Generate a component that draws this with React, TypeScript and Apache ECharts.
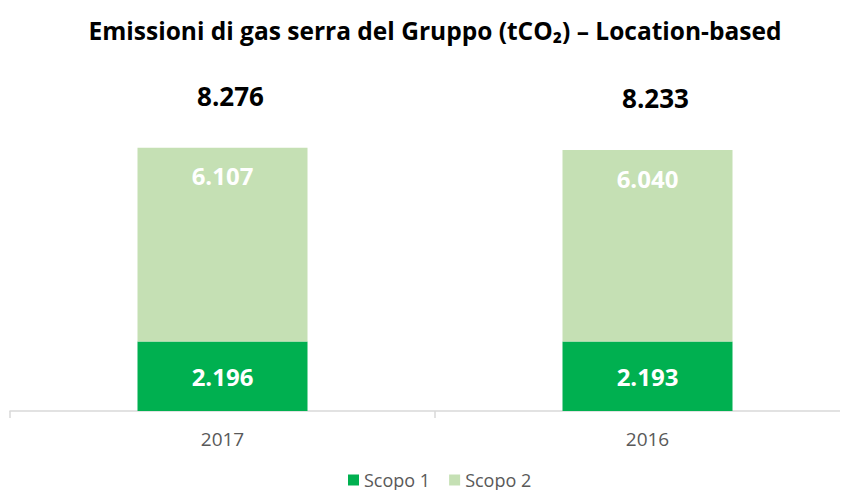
import React, { useEffect, useRef } from "react";
import * as echarts from "echarts";

const categories = ["2017", "2016"];
const scopo1 = [2196, 2193];
const scopo2 = [6107, 6040];
const totals = [8276, 8233];

const fmt = (v: number) => {
  const s = String(Math.round(v));
  return s.replace(/\B(?=(\d{3})+(?!\d))/g, ".");
};

const FONT = "'Open Sans', Lato, sans-serif";

export default function App() {
  const ref = useRef<HTMLDivElement>(null);
  useEffect(() => {
    if (!ref.current) return;
    const chart = echarts.init(ref.current, null, { renderer: "svg" });
    chart.setOption({
      animation: false,
      textStyle: { fontFamily: FONT },
      title: {
        text: "Emissioni di gas serra del Gruppo (tCO\u2082) \u2013 Location-based",
        left: 430,
        textAlign: "center",
        top: 13,
        textStyle: { fontFamily: FONT, fontSize: 24.5, fontWeight: "bold", color: "#000" },
      },
      legend: {
        data: ["Scopo 1", "Scopo 2"],
        top: 466,
        left: 343,
        icon: "rect",
        itemWidth: 11,
        itemHeight: 11,
        itemGap: 19,
        textStyle: { fontFamily: FONT, fontSize: 18, color: "#595959" },
      },
      grid: { left: 10, width: 850, top: 94, bottom: 87, containLabel: false },
      xAxis: {
        type: "category",
        data: categories,
        axisLine: { lineStyle: { color: "#d9d9d9", width: 1.5 } },
        axisTick: { show: true, length: 7, lineStyle: { color: "#d9d9d9", width: 1.5 } },
        axisLabel: { color: "#595959", fontSize: 19, margin: 18, fontFamily: FONT },
      },
      yAxis: {
        type: "value",
        min: 0,
        max: 10000,
        show: false,
        splitLine: { show: false },
      },
      series: [
        {
          name: "Scopo 1",
          type: "bar",
          stack: "tot",
          barWidth: 170,
          data: scopo1,
          itemStyle: { color: "#00B050" },
          label: {
            show: true,
            position: "inside",
            color: "#fff",
            fontSize: 24,
            fontWeight: "bold",
            fontFamily: FONT,
            formatter: (p: any) => fmt(p.value),
          },
        },
        {
          name: "Scopo 2",
          type: "bar",
          stack: "tot",
          barWidth: 170,
          data: scopo2,
          itemStyle: { color: "#C5E0B4" },
          label: {
            show: true,
            position: "insideTop",
            distance: 16,
            color: "#fff",
            fontSize: 24,
            fontWeight: "bold",
            fontFamily: FONT,
            formatter: (p: any) => fmt(p.value),
          },
        },
        {
          name: "Totale",
          type: "bar",
          stack: "tot",
          barWidth: 170,
          data: totals.map(() => 0),
          itemStyle: { color: "transparent" },
          label: {
            show: true,
            position: "top",
            distance: 39,
            offset: [8, 0],
            color: "#000",
            fontSize: 26,
            fontWeight: "bold",
            fontFamily: FONT,
            formatter: (p: any) => fmt(totals[p.dataIndex]),
          },
        },
      ],
    });
    return () => chart.dispose();
  }, []);
  return (
    <div style={{ width: 848, height: 498, margin: -8, overflow: "hidden" }}>
      <div ref={ref} style={{ width: 870, height: 498 }} />
    </div>
  );
}
